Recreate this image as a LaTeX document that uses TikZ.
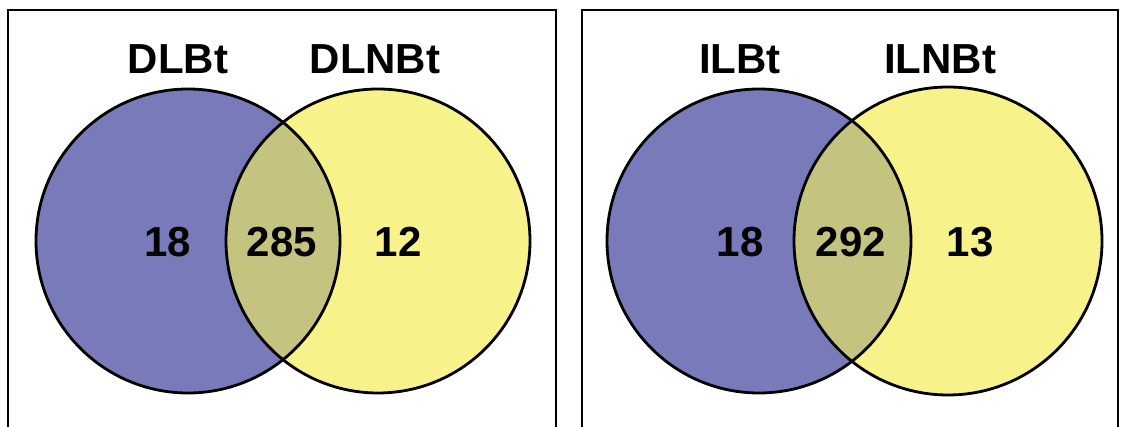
\documentclass[tikz,border=0pt]{standalone}
\usepackage{fontspec}
\setmainfont{Liberation Sans}
\usetikzlibrary{positioning}

\definecolor{setblue}{RGB}{120,122,185}
\definecolor{setyellow}{RGB}{247,242,138}
\definecolor{setboth}{RGB}{197,195,128}

\tikzset{
  panel/.style={draw=black, line width=2.4pt},
  setcirc/.style={draw=black, line width=2.8pt},
  setname/.style={font=\fontsize{42}{50}\selectfont\bfseries},
  setcount/.style={font=\fontsize{42}{50}\selectfont\bfseries}
}

\begin{document}
\begin{tikzpicture}[x=1pt,y=-1pt]
      \useasboundingbox (0,0) rectangle (1123,427);

      % left panel
      \draw[panel] (8,10) rectangle (556,445);
      \fill[setblue]   (188,241) circle (152);
      \fill[setyellow] (378,241) circle (152);
      \begin{scope}
        \clip (188,241) circle (152);
        \fill[setboth] (378,241) circle (152);
      \end{scope}
      \draw[setcirc] (188,241) circle (152);
      \draw[setcirc] (378,241) circle (152);
      \node[setname] (dlbt)  at (178,59) {DLBt};
      \node[setname] (dlnbt) at (375,59) {DLNBt};
      \node[setcount] (dlonly) at (168,242) {18};
      \node[setcount] (dlboth) at (282,242) {285};
      \node[setcount] (dlnonly) at (398,242) {12};

      % right panel
      \draw[panel] (582,10) rectangle (1118,445);
      \fill[setblue]   (759,241) circle (152);
      \fill[setyellow] (948,241) circle (154);
      \begin{scope}
        \clip (759,241) circle (152);
        \fill[setboth] (948,241) circle (154);
      \end{scope}
      \draw[setcirc] (759,241) circle (152);
      \draw[setcirc] (948,241) circle (154);
      \node[setname] (ilbt)  at (740,59) {ILBt};
      \node[setname] (ilnbt) at (940,59) {ILNBt};
      \node[setcount] (ilonly) at (740,242) {18};
      \node[setcount] (ilboth) at (851,242) {292};
      \node[setcount] (ilnonly) at (970,242) {13};
\end{tikzpicture}
\end{document}
